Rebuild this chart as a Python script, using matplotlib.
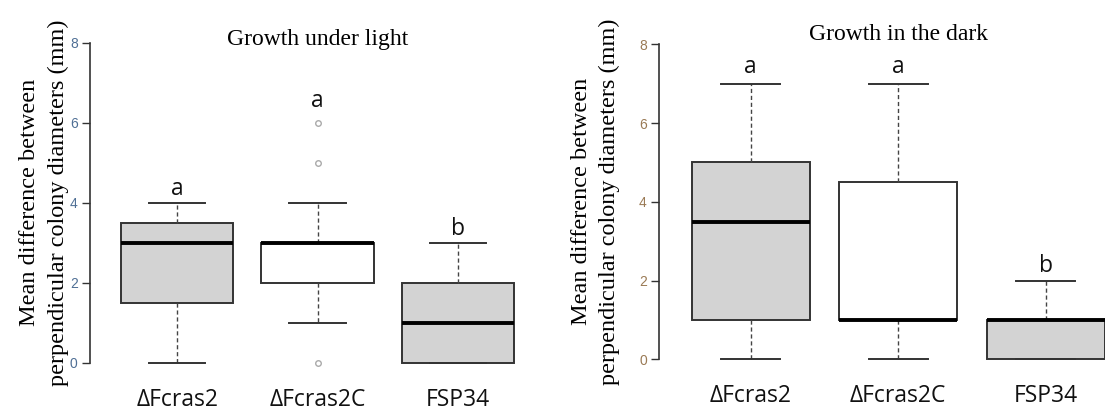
import matplotlib
matplotlib.use("Agg")
import matplotlib.pyplot as plt

groups = ["ΔFcras2", "ΔFcras2C", "FSP34"]
fills = ["#d3d3d3", "#ffffff", "#d3d3d3"]
yticks = [0, 2, 4, 6, 8]

# growth under light
light_whislo = [0, 1, 0]
light_q1 = [1.5, 2, 0]
light_med = [3, 3, 1]
light_q3 = [3.5, 3, 2]
light_whishi = [4, 4, 3]
light_fliers = [[], [0, 5, 6], []]
light_letters = ["a", "a", "b"]
light_letter_y = [4.2, 6.4, 3.2]

# growth in the dark
dark_whislo = [0, 0, 0]
dark_q1 = [1, 1, 0]
dark_med = [3.5, 1, 1]
dark_q3 = [5, 4.5, 1]
dark_whishi = [7, 7, 2]
dark_fliers = [[], [], []]
dark_letters = ["a", "a", "b"]
dark_letter_y = [7.27, 7.27, 2.22]

ylab = "Mean difference between\nperpendicular colony diameters (mm)"
serif = "Liberation Serif"
sans = ["Open Sans", "DejaVu Sans"]
narrow = ["Liberation Sans Narrow", "Liberation Sans", "DejaVu Sans"]


def draw_panel(ax, whislo, q1, med, q3, whishi, fliers, letters, letter_y,
               title, title_y, tick_color, label_x):
    stats = []
    for i in range(len(groups)):
        stats.append(dict(whislo=whislo[i], q1=q1[i], med=med[i], q3=q3[i],
                          whishi=whishi[i], fliers=fliers[i], label=groups[i]))
    bp = ax.bxp(stats, positions=[1, 2, 3], widths=0.8, patch_artist=True,
                capwidths=0.4,
                boxprops=dict(edgecolor="#333333", linewidth=1.4),
                medianprops=dict(color="black", linewidth=2.8),
                whiskerprops=dict(color="#444444", linewidth=1.0, linestyle=(0, (3, 2))),
                capprops=dict(color="#333333", linewidth=1.4),
                flierprops=dict(marker="o", markersize=4, markerfacecolor="none",
                                markeredgecolor="#aaaaaa", markeredgewidth=1.0))
    for patch, c in zip(bp["boxes"], fills):
        patch.set_facecolor(c)

    ax.set_xlim(0.38, 3.62)
    ax.set_ylim(-0.32, 8.32)
    for s in ["top", "right", "bottom"]:
        ax.spines[s].set_visible(False)
    ax.spines["left"].set_bounds(0, 8)
    ax.spines["left"].set_color("#333333")
    ax.spines["left"].set_linewidth(1.2)
    ax.set_yticks(yticks)
    ax.set_yticklabels([str(t) for t in yticks], family=narrow, fontsize=10,
                       color=tick_color)
    ax.tick_params(axis="y", length=5.5, width=1.0, color="#333333", pad=3.5)
    ax.tick_params(axis="x", length=0, pad=9)
    ax.set_xticks([1, 2, 3])
    ax.set_xticklabels(groups, family=sans, fontsize=16.5, color="#111111")

    for i, (t, y) in enumerate(zip(letters, letter_y)):
        ax.text(i + 1, y, t, ha="center", va="baseline", family=sans,
                fontsize=16.5, color="#111111")

    ax.text(2, title_y, title, ha="center", va="baseline", family=serif,
            fontsize=17, clip_on=False)
    ax.set_ylabel(ylab, family=serif, fontsize=17.5, linespacing=1.45)
    ax.yaxis.set_label_coords(label_x, 0.5)


fig = plt.figure(figsize=(11.05, 4.11), dpi=100)
ax1 = fig.add_axes([0.0816, 0.0864, 0.4115, 0.841])
ax2 = fig.add_axes([0.5967, 0.0951, 0.4323, 0.8277])

draw_panel(ax1, light_whislo, light_q1, light_med, light_q3, light_whishi,
           light_fliers, light_letters, light_letter_y,
           "Growth under light", 7.94, "#4f6f95", -0.047)
draw_panel(ax2, dark_whislo, dark_q1, dark_med, dark_q3, dark_whishi,
           dark_fliers, dark_letters, dark_letter_y,
           "Growth in the dark", 8.12, "#9a7a55", -0.082)

fig.savefig("out.png", dpi=100)
